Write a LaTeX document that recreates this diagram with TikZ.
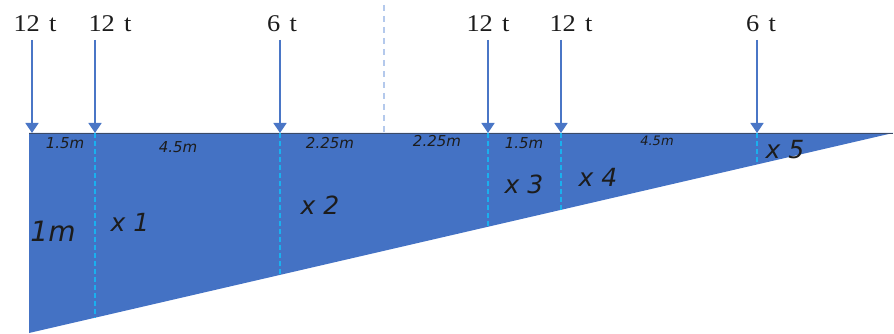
\documentclass[tikz,border=0pt]{standalone}
\usepackage{fontspec}
\setmainfont{Liberation Serif}
\newfontfamily\dvs{DejaVu Sans}
\usetikzlibrary{arrows.meta}
\definecolor{beamblue}{HTML}{4472C4}
\definecolor{arrblue}{HTML}{4A76C6}
\definecolor{cutcyan}{HTML}{1AB0EE}
\definecolor{midblue}{HTML}{B4C9EC}
\definecolor{edgegray}{HTML}{3B4A66}
\definecolor{txt}{HTML}{1C1C1C}
\tikzset{
  load/.style={font=\fontsize{24}{24}\selectfont, text=txt, inner sep=0pt, xscale=1.1},
  loadarrow/.style={draw=arrblue, line width=1.5pt, -{Triangle[width=13pt,length=10pt]}},
  dim/.style={font=\dvs\itshape\fontsize{15}{15}\selectfont, text=txt, inner sep=0pt},
  sect/.style={font=\dvs\itshape\fontsize{25}{25}\selectfont, text=txt, inner sep=0pt},
  cut/.style={draw=cutcyan, line width=1.2pt, dash pattern=on 5pt off 3pt},
}
\begin{document}
\begin{tikzpicture}[x=1pt,y=-1pt]
\useasboundingbox (0,0) rectangle (894,334);
% beam (triangle)
\coordinate (TL) at (29,133);
\coordinate (BL) at (29,333);
\coordinate (TR) at (893,133);
\fill[beamblue] (TL) -- (TR) -- (BL) -- cycle;
\draw[edgegray, line width=0.8pt] (TL) -- (TR);
% centre line
\coordinate (C0) at (384,5);
\coordinate (C1) at (384,133);
\draw[midblue, line width=1.8pt, dash pattern=on 6pt off 5pt] (C0) -- (C1);
% sections (dashed cuts)
\foreach \n/\x in {1/95,2/280,3/488,4/561,5/757}{
  \coordinate (T\n) at (\x,133);
  \coordinate (B\n) at (\x,{333-(\x-29)/4.32});
  \draw[cut] (T\n) -- (B\n);
}
% loads
\coordinate (T0) at (32,133);
\node[load] (L0) at (35,24) {12\hspace{0.35em}t};
\node[load] (L1) at (110,24) {12\hspace{0.35em}t};
\node[load] (L2) at (282,24) {6\hspace{0.35em}t};
\node[load] (L3) at (488,24) {12\hspace{0.35em}t};
\node[load] (L4) at (571,24) {12\hspace{0.35em}t};
\node[load] (L5) at (761,24) {6\hspace{0.35em}t};
\coordinate (S0) at (32,40);
\coordinate (S1) at (95,40);
\coordinate (S2) at (280,40);
\coordinate (S3) at (488,40);
\coordinate (S4) at (561,40);
\coordinate (S5) at (757,40);
\foreach \n in {0,...,5}{ \draw[loadarrow] (S\n) -- (T\n); }
% dimension labels
\node[dim] (d1) at (65,143) {1.5m};
\node[dim] (d2) at (178,147) {4.5m};
\node[dim] (d3) at (330,143) {2.25m};
\node[dim] (d4) at (437,141) {2.25m};
\node[dim] (d5) at (524,143) {1.5m};
\node[dim,font=\dvs\itshape\fontsize{13}{13}\selectfont] (d6) at (657,141) {4.5m};
% section labels
\node[sect,font=\dvs\itshape\fontsize{28}{28}\selectfont] (h) at (53,231) {1m};
\node[sect] (x1) at (130,222) {x 1};
\node[sect] (x2) at (320,205) {x 2};
\node[sect] (x3) at (524,184) {x 3};
\node[sect] (x4) at (598,177) {x 4};
\node[sect] (x5) at (785,150) {x 5};
\end{tikzpicture}
\end{document}
